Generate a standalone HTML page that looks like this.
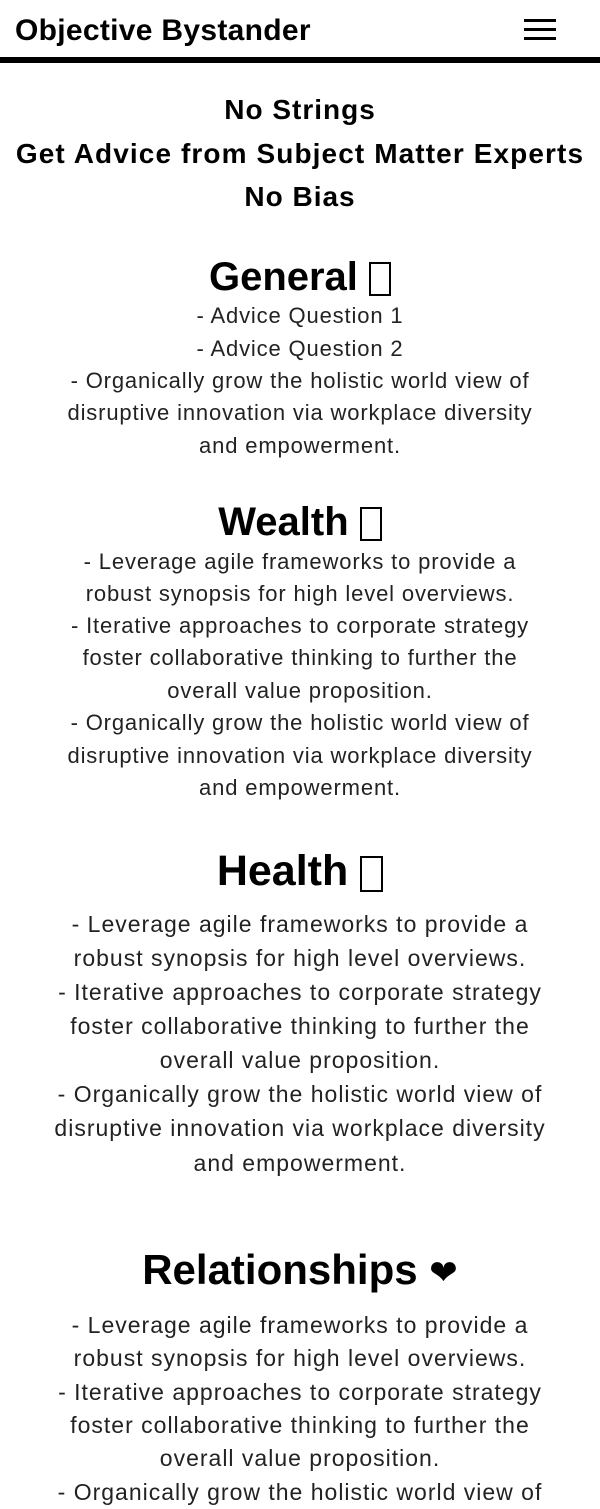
<!DOCTYPE html>
<html><head><meta charset="utf-8"><style>
html,body{margin:0;padding:0;background:#fff;}
body{width:600px;height:1500px;position:relative;overflow:hidden;font-family:"Liberation Sans",sans-serif;color:#000;}
.l{position:absolute;left:0;width:600px;text-align:center;white-space:nowrap;}
.h{font-weight:bold;}
.b{font-weight:normal;color:#222;}
.s .l{font-size:22px;line-height:32px;letter-spacing:0.85px;}
.m .l{font-size:23px;line-height:34px;letter-spacing:1px;}
.tofu{display:inline-block;border:2px solid #000;vertical-align:middle;}
</style></head><body>
<div class="l h" style="left:15px;width:auto;text-align:left;top:12px;font-size:30px;line-height:38px;letter-spacing:0.3px;">Objective Bystander</div>
<div style="position:absolute;left:524px;top:19px;width:32px;height:22px;">
<div style="position:absolute;top:0;left:0;width:32px;height:3px;background:#000"></div>
<div style="position:absolute;top:9px;left:0;width:32px;height:3px;background:#000"></div>
<div style="position:absolute;top:18px;left:0;width:32px;height:3px;background:#000"></div>
</div>
<div style="position:absolute;left:0;top:57px;width:600px;height:6px;background:#000"></div>

<div class="l h" style="top:88px;font-size:28px;line-height:44px;letter-spacing:1px;">No Strings</div>
<div class="l h" style="top:132px;font-size:28px;line-height:44px;letter-spacing:1.1px;">Get Advice from Subject Matter Experts</div>
<div class="l h" style="top:175px;font-size:28px;line-height:44px;letter-spacing:1px;">No Bias</div>

<div class="l h" style="top:252px;font-size:40px;line-height:50px;">General <span class="tofu" style="width:18px;height:30px;"></span></div>
<div class="b s">
<div class="l" style="top:300px;">- Advice Question 1</div>
<div class="l" style="top:333px;">- Advice Question 2</div>
<div class="l" style="top:365px;">- Organically grow the holistic world view of</div>
<div class="l" style="top:397px;">disruptive innovation via workplace diversity</div>
<div class="l" style="top:430px;">and empowerment.</div>
</div>

<div class="l h" style="top:497px;font-size:40px;line-height:50px;">Wealth <span class="tofu" style="width:18px;height:30px;"></span></div>
<div class="b s">
<div class="l" style="top:546px;">- Leverage agile frameworks to provide a</div>
<div class="l" style="top:578px;">robust synopsis for high level overviews.</div>
<div class="l" style="top:610px;">- Iterative approaches to corporate strategy</div>
<div class="l" style="top:642px;">foster collaborative thinking to further the</div>
<div class="l" style="top:675px;">overall value proposition.</div>
<div class="l" style="top:707px;">- Organically grow the holistic world view of</div>
<div class="l" style="top:740px;">disruptive innovation via workplace diversity</div>
<div class="l" style="top:772px;">and empowerment.</div>
</div>

<div class="l h" style="top:845px;font-size:43px;line-height:52px;">Health <span class="tofu" style="width:19px;height:32px;"></span></div>
<div class="b m">
<div class="l" style="top:907px;">- Leverage agile frameworks to provide a</div>
<div class="l" style="top:941px;">robust synopsis for high level overviews.</div>
<div class="l" style="top:975px;">- Iterative approaches to corporate strategy</div>
<div class="l" style="top:1009px;">foster collaborative thinking to further the</div>
<div class="l" style="top:1043px;">overall value proposition.</div>
<div class="l" style="top:1077px;">- Organically grow the holistic world view of</div>
<div class="l" style="top:1111px;">disruptive innovation via workplace diversity</div>
<div class="l" style="top:1146px;">and empowerment.</div>
</div>

<div class="l h" style="top:1244px;font-size:42px;line-height:52px;">Relationships <span style="font-family:'DejaVu Sans',sans-serif;font-size:34px;">❤</span></div>
<div class="b m">
<div class="l" style="top:1308px;">- Leverage agile frameworks to provide a</div>
<div class="l" style="top:1341px;">robust synopsis for high level overviews.</div>
<div class="l" style="top:1375px;">- Iterative approaches to corporate strategy</div>
<div class="l" style="top:1408px;">foster collaborative thinking to further the</div>
<div class="l" style="top:1441px;">overall value proposition.</div>
<div class="l" style="top:1475px;">- Organically grow the holistic world view of</div>
</div>
</body></html>
